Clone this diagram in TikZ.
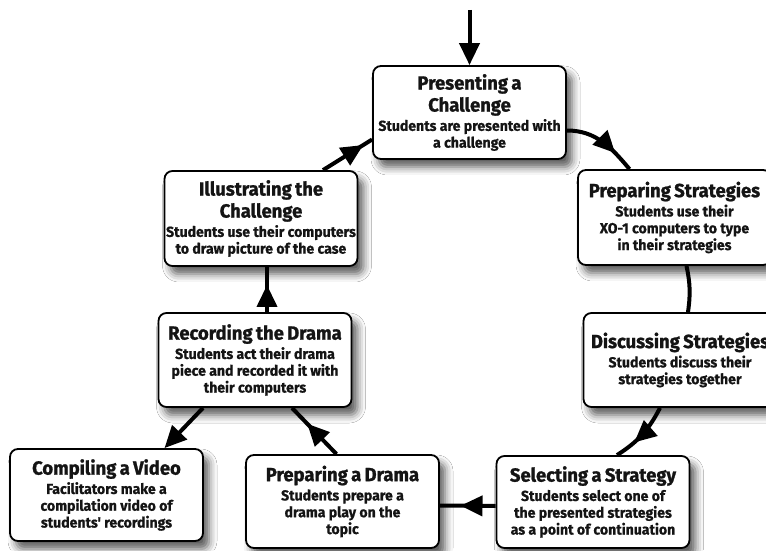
\documentclass[tikz,border=0pt]{standalone}
\usepackage{fontspec}
\setmainfont{Fira Sans}
\newfontfamily\titlefam{Fira Sans}[FakeStretch=0.97, FakeBold=1.2]
\newfontfamily\bodyfam{Fira Sans}[FakeStretch=0.97, FakeBold=0.8]
\usetikzlibrary{arrows.meta,decorations.markings,shadows.blur}
\newcommand\boxcontent[2]{{\titlefam\bfseries\fontsize{19}{22}\selectfont #1\par}\vspace{2.5pt}{\bodyfam\bfseries\fontsize{14.5}{16.8}\selectfont #2\par}}
\tikzset{
  stepnode/.style={draw=black, line width=1.8pt, fill=white, rounded corners=8pt,
    minimum width=193pt, minimum height=93pt, text width=225pt, align=center,
    inner xsep=-16pt, inner ysep=0pt, text=black!92,
    blur shadow={shadow xshift=6pt, shadow yshift=-8pt, shadow blur radius=8pt, shadow opacity=65}},
  flowline/.style={line width=4pt, draw=black},
  flow/.style={flowline, -{Triangle[length=22pt,width=20pt]}},
  flowmid/.style={flowline, postaction={decorate},
    decoration={markings, mark=at position #1 with {\arrow{Triangle[length=22pt,width=20pt]}}}}
}
\begin{document}
\begin{tikzpicture}[x=1pt,y=1pt]
\useasboundingbox (0,0) rectangle (766,550);
\clip (0,0) rectangle (766,550);
\fill[white] (0,0) rectangle (766,550);
\node[stepnode, minimum height=93pt] (P) at (469.5,437.5) {\boxcontent{Presenting a\\Challenge}{Students are presented with\\a challenge}};
\node[stepnode, minimum height=95pt] (PS) at (674.5,332.5) {\boxcontent{Preparing Strategies}{Students use their\\XO-1 computers to type\\in their strategies}};
\node[stepnode, minimum height=94pt] (DS) at (680,190) {\boxcontent{Discussing Strategies}{Students discuss their\\strategies together}};
\node[stepnode, minimum height=92pt] (SS) at (593,48) {\boxcontent{Selecting a Strategy}{Students select one of\\the presented strategies\\as a point of continuation}};
\node[stepnode, minimum height=93pt] (PD) at (342.5,48.5) {\boxcontent{Preparing a Drama}{Students prepare a\\drama play on the\\topic}};
\node[stepnode, minimum height=92pt] (CV) at (106.5,55) {\boxcontent{Compiling a Video}{Facilitators make a\\compilation video of\\students' recordings}};
\node[stepnode, minimum height=94pt] (RD) at (255,190) {\boxcontent{Recording the Drama}{Students act their drama\\piece and recorded it with\\their computers}};
\node[stepnode, minimum height=95pt] (IC) at (261,331.5) {\boxcontent{Illustrating the\\Challenge}{Students use their computers\\to draw picture of the case}};
\coordinate (top) at (469.5,540);
\draw[flow] (top) -- (P.north);
\draw[flowmid=0.72] ([yshift=-18pt]P.east) to[out=0,in=130] ([xshift=-45pt]PS.north);
\draw[flowline] ([xshift=12pt]PS.south) to[bend left=10] ([xshift=8pt]DS.north);
\draw[flowmid=0.67] ([xshift=-20pt]DS.south) to[bend left=15] ([xshift=24pt]SS.north);
\draw[flowmid=0.63] ([yshift=-4pt]SS.west) -- ([yshift=-4pt]PD.east);
\draw[flowmid=0.66] ([xshift=-6pt]PD.north) -- ([xshift=37pt]RD.south);
\draw[flow] ([xshift=-52pt]RD.south) -- ([xshift=58pt]CV.north);
\draw[flowmid=0.6] ([xshift=12pt]RD.north) -- ([xshift=6pt]IC.south);
\draw[flowmid=0.82] ([xshift=62pt]IC.north) -- ([yshift=-27pt]P.west);
\end{tikzpicture}
\end{document}
